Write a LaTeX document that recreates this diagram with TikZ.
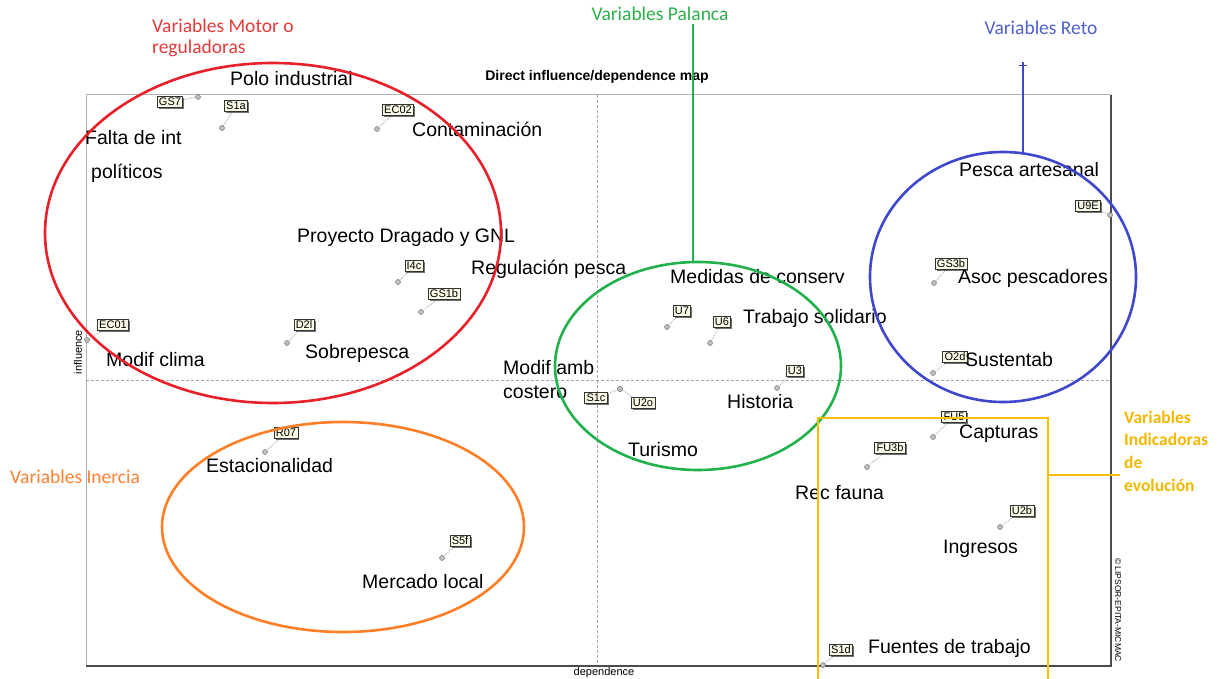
\documentclass[tikz,border=0pt]{standalone}
\usepackage{fontspec}
\setmainfont{Liberation Sans}
\newfontfamily\calib{Carlito}
\usetikzlibrary{shapes.geometric,shadows}
\definecolor{cred}{HTML}{E8202A}
\definecolor{cgreen}{HTML}{22B14C}
\definecolor{cblue}{HTML}{3F48CC}
\definecolor{corange}{HTML}{FF7F27}
\definecolor{cyellow}{HTML}{FFC000}
\definecolor{tred}{HTML}{E63A3A}
\definecolor{tgreen}{HTML}{2DB04A}
\definecolor{tblue}{HTML}{5060D0}
\definecolor{torange}{HTML}{FF8030}
\definecolor{tyellow}{HTML}{F2B800}
\definecolor{tagbg}{HTML}{FAFAE6}
\begin{document}
\begin{tikzpicture}[x=1pt,y=-1pt,
  lbl/.style={font=\fontsize{19.5}{19.5}\selectfont, anchor=west, inner sep=0pt},
  grp/.style={font=\calib\fontsize{19.5}{21}\selectfont, anchor=west, inner sep=0pt, align=left},
  tagbox/.style={draw=black!80, fill=tagbg, font=\fontsize{11}{11}\selectfont, inner sep=1.8pt, line width=0.7pt,
     drop shadow={shadow xshift=1.6pt, shadow yshift=-1.6pt, fill=black!65, opacity=0.85}},
  dpt/.style={circle, draw=black!60, fill=gray!50, inner sep=0pt, minimum size=5pt},
  lnk/.style={gray!70, densely dotted, line width=0.8pt},
  ell/.style={line width=2.6pt},
  small/.style={font=\fontsize{11}{11}\selectfont, inner sep=0pt}]
\useasboundingbox (0,0) rectangle (1220,679);
\fill[white] (0,0) rectangle (1220,679);

% frame and axes
\draw[gray!60, line width=1pt] (86,95) rectangle (1110,665);
\draw[black!70, line width=1.3pt] (1111,95) -- (1111,666) -- (86,666);
\draw[gray!70, densely dashed, line width=0.5pt] (597,95) -- (597,665);
\draw[gray!70, densely dashed, line width=0.5pt] (86,380) -- (1110,380);

\node[font=\bfseries\fontsize{14}{14}\selectfont, inner sep=0pt] (title) at (597,77) {Direct influence/dependence map};
\node[small] (xax) at (604,673) {dependence};
\node[small, rotate=90] (yax) at (78,352) {influence};
\node[font=\fontsize{8.5}{8.5}\selectfont, inner sep=0pt, rotate=-90] (copy) at (1118,610) {\copyright{} LIPSOR-EPITA-MICMAC};

% tags with points
\foreach \n/\t/\tx/\ty/\px/\py in {
  GS7/GS7/170/102/198/97,
  S1a/S1a/236/106/222/128,
  EC02/EC02/398/110/377/129,
  I4c/I4c/414/266/398/282,
  GS1b/GS1b/444/294/421/312,
  EC01/EC01/113/325/87/340,
  D2l/D2l/304/325/287/343,
  R07/R07/286/433/265/452,
  S5f/S5f/460/541/442/558,
  U7/U7/682/311/667/327,
  U6/U6/722/322/710/343,
  U3/U3/795/371/777/388,
  S1c/S1c/596/398/620/389,
  U2o/U2o/643/403/620/389,
  U9E/U9E/1088/206/1110/215,
  GS3b/GS3b/951/264/934/283,
  O2d/O2d/955/357/933/373,
  FU5/FU5/954/417/933/437,
  FU3b/FU3b/890/448/867/467,
  U2b/U2b/1022/511/1000/527,
  S1d/S1d/841/650/823/665}{
  \node[dpt] (p\n) at (\px,\py) {};
  \draw[lnk] (p\n) -- (\tx,\ty);
  \node[tagbox] (t\n) at (\tx,\ty) {\t};
}

% variable labels
\node[lbl] (polo) at (230,79) {Polo industrial};
\node[lbl] (falta) at (85,138) {Falta de int};
\node[lbl] (politicos) at (91,173) {políticos};
\node[lbl] (contam) at (412,129) {Contaminación};
\node[lbl] (proy) at (297,237) {Proyecto Dragado y GNL};
\node[lbl] (regul) at (471,269) {Regulación pesca};
\node[lbl] (medidas) at (670,277) {Medidas de conserv};
\node[lbl] (trabajo) at (743,318) {Trabajo solidario};
\node[lbl] (clima) at (106,360) {Modif clima};
\node[lbl] (sobre) at (305,353) {Sobrepesca};
\node[lbl] (modamb) at (503,368) {Modif amb};
\node[lbl] (costero) at (503,392) {costero};
\node[lbl] (historia) at (727,402) {Historia};
\node[lbl] (turismo) at (628,450) {Turismo};
\node[lbl] (pesca) at (959,170) {Pesca artesanal};
\node[lbl] (asoc) at (958,278) {Asoc pescadores};
\node[lbl] (sust) at (965,360) {Sustentab};
\node[lbl] (capt) at (959,434) {Capturas};
\node[lbl] (estac) at (206,466) {Estacionalidad};
\node[lbl] (fauna) at (795,493) {Rec fauna};
\node[lbl] (ingr) at (943,549) {Ingresos};
\node[lbl] (merc) at (362,582) {Mercado local};
\node[lbl] (fuentes) at (868,648) {Fuentes de trabajo};

% groups
\draw[ell, cred] (273,233) ellipse [x radius=228pt, y radius=170pt];
\draw[ell, cgreen] (698,366) ellipse [x radius=143pt, y radius=104pt];
\draw[ell, cblue] (1003,277) ellipse [x radius=133pt, y radius=125pt];
\draw[ell, corange] (343,527) ellipse [x radius=181pt, y radius=105pt];
\draw[ell, cyellow] (818,679) -- (818,418) -- (1048,418) -- (1048,679);

\node[grp, text=tred] (gmotor) at (152,38) {Variables Motor o\\reguladoras};
\node[grp, text=tgreen, anchor=center] (gpal) at (660,14) {Variables Palanca};
\node[grp, text=tblue, anchor=center] (greto) at (1041,28) {Variables Reto};
\node[grp, text=torange] (giner) at (10,477) {Variables Inercia};
\node[grp, text=tyellow, font=\calib\bfseries\fontsize{17.5}{22.7}\selectfont] (gind) at (1124,451) {Variables\\Indicadoras\\de\\evolución};

\coordinate (gtop) at (693,24);
\coordinate (gbot) at (693,262);
\draw[ell, cgreen] (gtop) -- (gbot);
\coordinate (btop) at (1023,62);
\coordinate (bbot) at (1023,152);
\draw[ell, cblue] (btop) -- (bbot);
\draw[cblue, line width=1pt] (1019,66) -- (1027,66);
\coordinate (yl) at (1048,475);
\coordinate (yr) at (1120,475);
\draw[ell, cyellow] (yl) -- (yr);
\end{tikzpicture}
\end{document}
